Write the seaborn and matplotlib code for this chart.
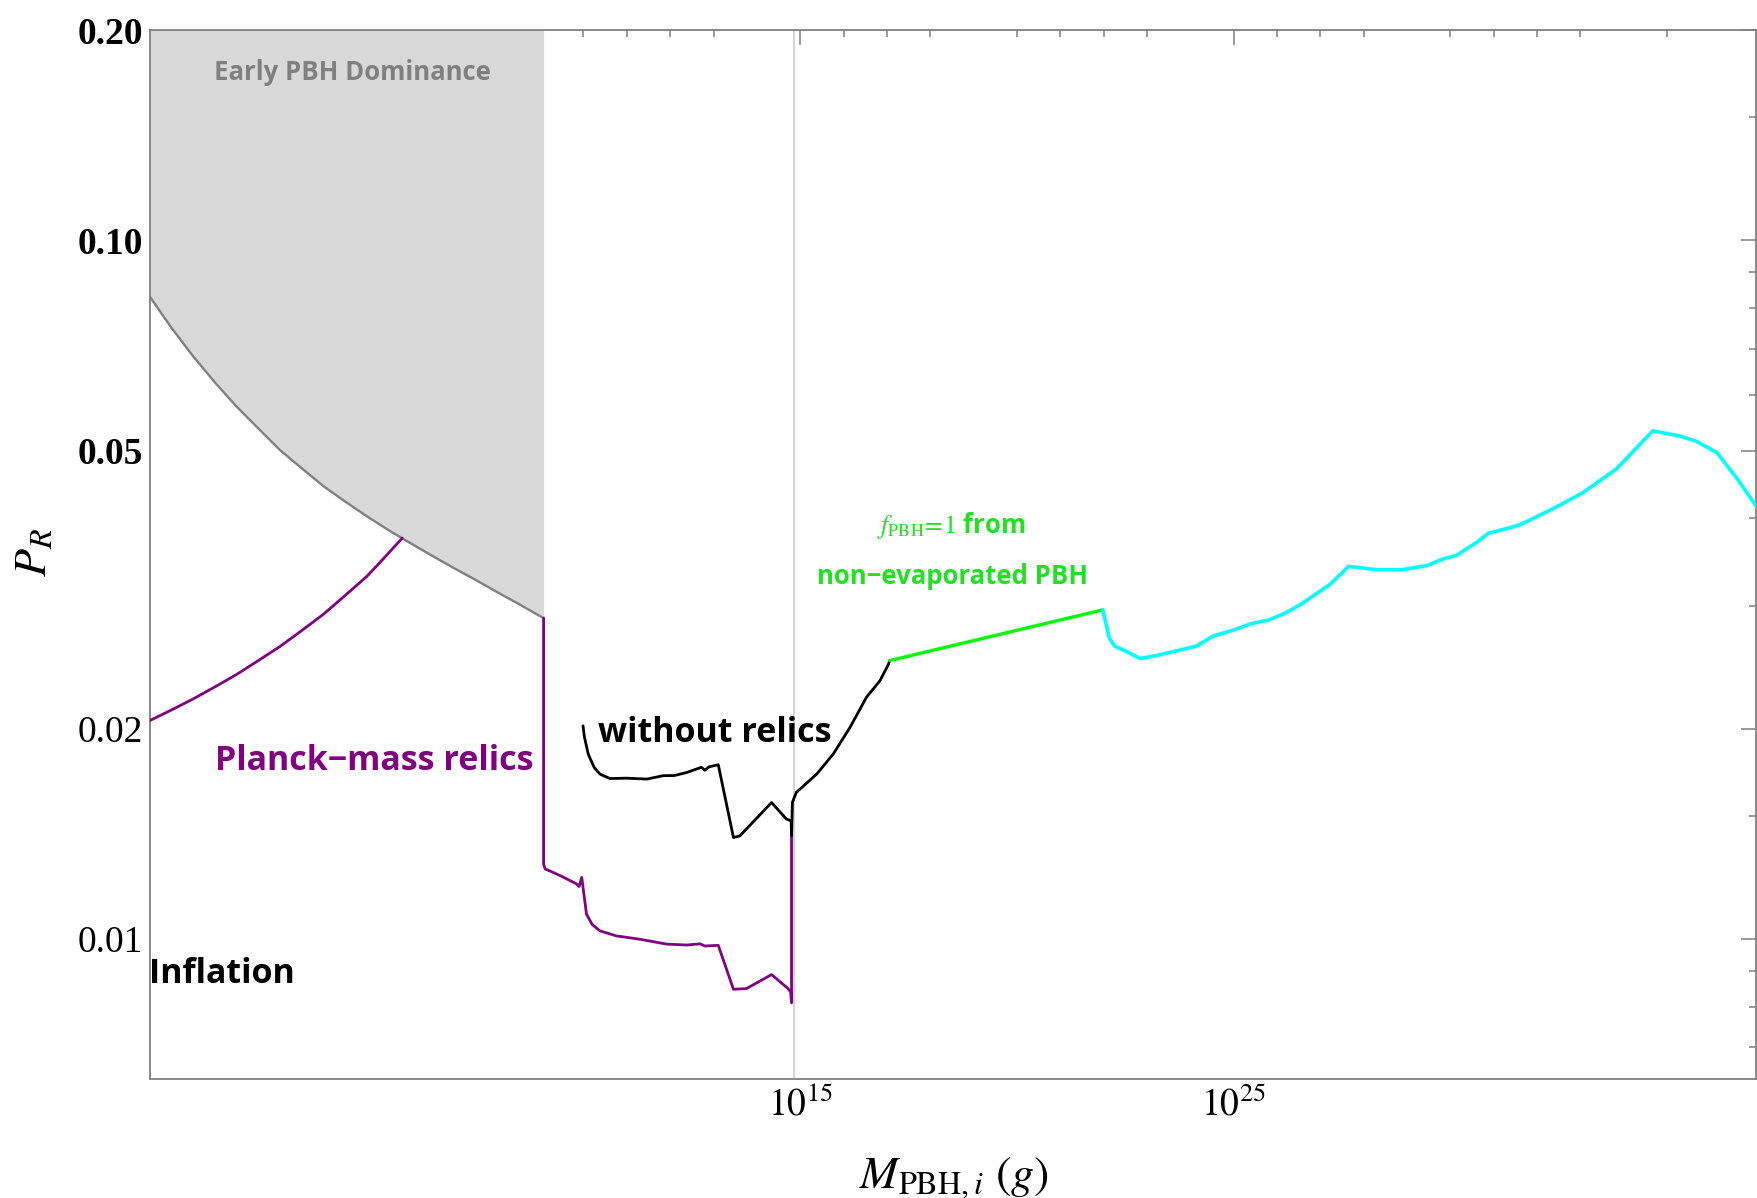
import numpy as np
import pandas as pd
import matplotlib
matplotlib.use("Agg")
import matplotlib.pyplot as plt
import seaborn as sns
from matplotlib.ticker import FixedLocator, FixedFormatter, NullFormatter

sns.set_theme(style="white")
plt.rcParams["font.family"] = ["Liberation Serif", "DejaVu Serif"]
plt.rcParams["mathtext.fontset"] = "stix"

# ---------------- data (log10 of M in grams, P_R) ----------------
boundary_logM = [0.0, 0.5, 1.0, 1.5, 2.0, 2.5, 3.0, 3.5, 4.0, 4.5, 5.0, 5.5, 6.0, 6.5,
                 7.0, 7.5, 8.0, 8.5, 9.08]
boundary_P = [0.0830, 0.0749, 0.0682, 0.0626, 0.0578, 0.0538, 0.0501, 0.0472, 0.0445,
              0.0423, 0.0403, 0.0385, 0.0369, 0.0354, 0.0340, 0.0327, 0.0314, 0.0302, 0.0288]

relic_a_logM = [0.0, 0.5, 1.0, 1.5, 2.0, 2.5, 3.0, 3.5, 4.0, 4.5, 5.0, 5.4, 5.82]
relic_a_P = [0.02056, 0.02129, 0.02208, 0.02297, 0.02393, 0.02505, 0.02624, 0.02765,
             0.02917, 0.03103, 0.03304, 0.03512, 0.03750]

relic_b_logM = [9.08, 9.08, 9.12, 9.23, 9.50, 9.84, 9.90, 9.96, 10.07, 10.20, 10.38, 10.76,
                11.30, 11.92, 12.38, 12.69, 12.80, 13.11, 13.46, 13.76, 14.34, 14.72,
                14.78, 14.80, 14.80]
relic_b_P = [0.0288, 0.0128, 0.0126, 0.01252, 0.0123, 0.0120, 0.0119, 0.01226, 0.01086, 0.01050,
             0.01028, 0.01011, 0.01000, 0.00984, 0.00981, 0.00985, 0.00978, 0.00980, 0.00848,
             0.00850, 0.00890, 0.00850, 0.00840, 0.00811, 0.01406]

norelic_logM = [9.99, 10.02, 10.11, 10.25, 10.38, 10.61, 11.00, 11.46, 11.84, 12.10, 12.38,
                12.72, 12.80, 12.90, 13.11, 13.46, 13.61, 14.34, 14.68, 14.79, 14.80, 14.82,
                14.91, 15.38, 15.76, 16.15, 16.53, 16.84, 17.03, 17.07]
norelic_P = [0.0202, 0.0195, 0.0184, 0.0176, 0.01723, 0.01698, 0.01700, 0.01695, 0.01714,
             0.01715, 0.01732, 0.01762, 0.01745, 0.01765, 0.01777, 0.01398, 0.01406, 0.01569,
             0.01486, 0.01477, 0.01406, 0.0157, 0.01622, 0.01723, 0.0184, 0.0201, 0.0222,
             0.02344, 0.0247, 0.02505]

green_logM = [17.07, 21.98]
green_P = [0.02505, 0.0296]

cyan_logM = [21.98, 22.13, 22.25, 22.54, 22.84, 23.20, 23.66, 24.14, 24.53, 25.00, 25.40,
             25.79, 26.20, 26.56, 27.24, 27.65, 28.31, 28.88, 29.46, 29.85, 30.14, 30.63,
             30.87, 31.59, 32.08, 32.46, 33.04, 33.82, 34.67, 35.27, 35.66, 36.15, 36.63, 37.09]
cyan_P = [0.0296, 0.0270, 0.02627, 0.02578, 0.02522, 0.02545, 0.02584, 0.02627, 0.02716,
          0.02770, 0.02828, 0.02860, 0.02930, 0.03017, 0.03225, 0.03416, 0.03378, 0.03378,
          0.03425, 0.03504, 0.03542, 0.03705, 0.03808, 0.03914, 0.04048, 0.04160, 0.04349,
          0.04703, 0.05339, 0.05252, 0.05164, 0.04969, 0.04547, 0.04137]

evap_logM = 14.86  # vertical reference line

ytick_major = [0.01, 0.02, 0.05, 0.10, 0.20]
ytick_labels = ["0.01", "0.02", "0.05", "0.10", "0.20"]
ytick_minor = [0.007, 0.008, 0.009, 0.015, 0.03, 0.04, 0.06, 0.07, 0.08, 0.09, 0.15]
xtick_major_exp = [15, 25]
xtick_minor_exp = [5, 6, 7, 8, 10, 11, 12, 13, 16, 17, 18, 20, 21, 22, 23, 26, 27, 28,
                   30, 31, 32, 33, 35]

# ---------------- figure ----------------
W, H = 1758, 1198
fig = plt.figure(figsize=(W / 100, H / 100), dpi=100)
ax = fig.add_axes([150 / W, (H - 1079) / H, 1606 / W, 1049 / H])

def frame(logm, p):
    return pd.DataFrame({"M": 10.0 ** np.array(logm), "P": np.array(p)})

bnd = frame(boundary_logM, boundary_P)
ax.fill_between(bnd["M"], bnd["P"], 0.2, color="#d9d9d9", linewidth=0, zorder=1)
ax.axvline(10 ** evap_logM, color="#cccccc", lw=1.2, zorder=1.5)

line_kw = dict(x="M", y="P", sort=False, estimator=None, ax=ax)
sns.lineplot(data=bnd, color="#808080", lw=1.7, zorder=2, **line_kw)
sns.lineplot(data=frame(relic_a_logM, relic_a_P), color="#800080", lw=2.0, zorder=3, **line_kw)
sns.lineplot(data=frame(relic_b_logM, relic_b_P), color="#800080", lw=2.0, zorder=3, **line_kw)
sns.lineplot(data=frame(norelic_logM, norelic_P), color="black", lw=2.0, zorder=4, **line_kw)
sns.lineplot(data=frame(green_logM, green_P), color="#00ff00", lw=2.4, zorder=4, **line_kw)
sns.lineplot(data=frame(cyan_logM, cyan_P), color="#00ffff", lw=2.6, zorder=4, **line_kw)

ax.set_xscale("log")
ax.set_yscale("log")
ax.set_xlim(1.0, 10 ** 37.05)
ax.set_ylim(10 ** -2.2, 0.2)

ax.xaxis.set_major_locator(FixedLocator([10.0 ** e for e in xtick_major_exp]))
ax.xaxis.set_major_formatter(FixedFormatter([r"$10^{%d}$" % e for e in xtick_major_exp]))
ax.xaxis.set_minor_locator(FixedLocator([10.0 ** e for e in xtick_minor_exp]))
ax.xaxis.set_minor_formatter(NullFormatter())
ax.yaxis.set_major_locator(FixedLocator(ytick_major))
ax.yaxis.set_major_formatter(FixedFormatter(ytick_labels))
ax.yaxis.set_minor_locator(FixedLocator(ytick_minor))
ax.yaxis.set_minor_formatter(NullFormatter())

ax.tick_params(which="both", direction="in", top=True, right=True, colors="#7f7f7f",
               labelcolor="black", labelsize=27)
ax.tick_params(which="major", length=10.8, width=1.1, pad=5)
ax.tick_params(which="minor", length=5.0, width=1.1)
for lab in ax.get_yticklabels():
    if lab.get_text() in ("0.05", "0.10", "0.20"):
        lab.set_fontweight("bold")

for s in ax.spines.values():
    s.set_color("#7f7f7f")
    s.set_linewidth(1.3)
ax.set_xlabel("")
ax.set_ylabel("")

sans = ["Open Sans", "DejaVu Sans"]
ax.text(0.1258, 0.9523, "Early PBH Dominance", transform=ax.transAxes, ha="center", va="baseline",
        color="#808080", fontsize=18.5, fontweight="bold", family=sans, zorder=5)
ax.text(0.0405, 0.2946, "Planck\u2212mass relics", transform=ax.transAxes, ha="left", va="baseline",
        color="#800080", fontsize=24.5, fontweight="bold", family=sans, zorder=5)
ax.text(0.2790, 0.3215, "without relics", transform=ax.transAxes, ha="left", va="baseline",
        color="black", fontsize=24.5, fontweight="bold", family=sans, zorder=5)
ax.text(-0.0006, 0.0912, "Inflation", transform=ax.transAxes, ha="left", va="baseline",
        color="black", fontsize=24.5, fontweight="bold", family=sans, zorder=5)
ax.text(0.4527, 0.5202, r"$f_{\mathrm{PBH}}\!=\!1$ from", transform=ax.transAxes, ha="left",
        va="baseline", color="#22e022", fontsize=18.5, fontweight="bold", family=sans, zorder=5)
ax.text(0.4153, 0.4719, "non\u2212evaporated PBH", transform=ax.transAxes, ha="left", va="baseline",
        color="#22e022", fontsize=18.5, fontweight="bold", family=sans, zorder=5)

fig.text(954 / W, 1 - 1188 / H, r"$M_{\mathrm{PBH},i}\ (g)$", ha="center", va="baseline",
         fontsize=33, color="black")
fig.text(35 / W, 1 - 553 / H, r"$P_{R}$", ha="center", va="center", rotation=90,
         fontsize=33, color="black")

fig.savefig("out.png", dpi=100)
